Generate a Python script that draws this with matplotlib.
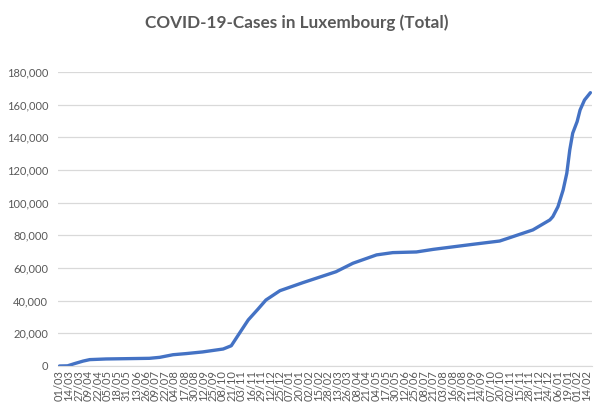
import pandas as pd
import matplotlib
matplotlib.use("Agg")
import matplotlib.pyplot as plt
import matplotlib.ticker as mticker

# Werte (kumulierte Fälle)
dates = [
    "2020-03-01", "2020-03-12", "2020-03-21", "2020-04-02", "2020-04-11",
    "2020-05-03", "2020-07-01", "2020-07-15", "2020-08-02", "2020-08-20",
    "2020-09-11", "2020-10-09", "2020-10-20", "2020-10-31", "2020-11-12",
    "2020-11-25", "2020-12-06", "2020-12-25", "2021-01-25", "2021-03-11",
    "2021-04-03", "2021-05-05", "2021-05-27", "2021-06-28", "2021-07-21",
    "2021-09-13", "2021-10-19", "2021-11-02", "2021-12-03", "2021-12-26",
    "2021-12-30", "2022-01-06", "2022-01-13", "2022-01-18", "2022-01-22",
    "2022-01-26", "2022-02-01", "2022-02-05", "2022-02-11", "2022-02-19",
]
cases = [
    0, 100, 1400, 3000, 3900,
    4300, 4700, 5300, 6900, 7600,
    8600, 10400, 12400, 20000, 28200,
    34700, 40400, 46100, 51000, 57700,
    62900, 68000, 69400, 69800, 71400,
    74500, 76500, 78600, 83300, 89400,
    91400, 97500, 107700, 118000, 132200,
    142500, 149600, 156700, 162800, 167300,
]
# Achsenbeschriftung alle 13 Tage
tick_start = "2020-03-01"
tick_end = "2022-02-14"

grey_text = "#595959"
grid_col = "#d9d9d9"

plt.rcParams['font.family'] = ['Lato', 'DejaVu Sans']

x = pd.to_datetime(dates)
ticks = pd.date_range(tick_start, tick_end, freq="13D")

fig = plt.figure(figsize=(6.06, 4.11), dpi=100)
ax = fig.add_axes([0.0957, 0.1095, 0.881, 0.7155])

ax.plot(x, cases, color="#4472C4", linewidth=2.4, solid_capstyle="round")

ax.set_ylim(0, 180000)
ax.set_yticks(range(0, 180001, 20000))
ax.yaxis.set_major_formatter(mticker.FuncFormatter(lambda v, p: f"{int(v):,}"))
ax.set_xlim(pd.Timestamp("2020-02-28"), pd.Timestamp("2022-02-21"))
ax.set_xticks(ticks)
ax.set_xticklabels([t.strftime("%d/%m") for t in ticks], rotation=90)

ax.grid(axis="y", color=grid_col, linewidth=0.9)
ax.set_axisbelow(True)
for s in ["top", "right", "left"]:
    ax.spines[s].set_visible(False)
ax.spines["bottom"].set_color(grid_col)
ax.tick_params(axis="both", length=0, colors=grey_text, labelsize=8)
ax.tick_params(axis="y", pad=7)
ax.tick_params(axis="x", pad=3)

fig.text(0.49, 0.945, "COVID-19-Cases in Luxembourg (Total)", ha="center",
         va="center", fontsize=12.3, fontweight="bold", color=grey_text)

fig.savefig("out.png", dpi=100)
